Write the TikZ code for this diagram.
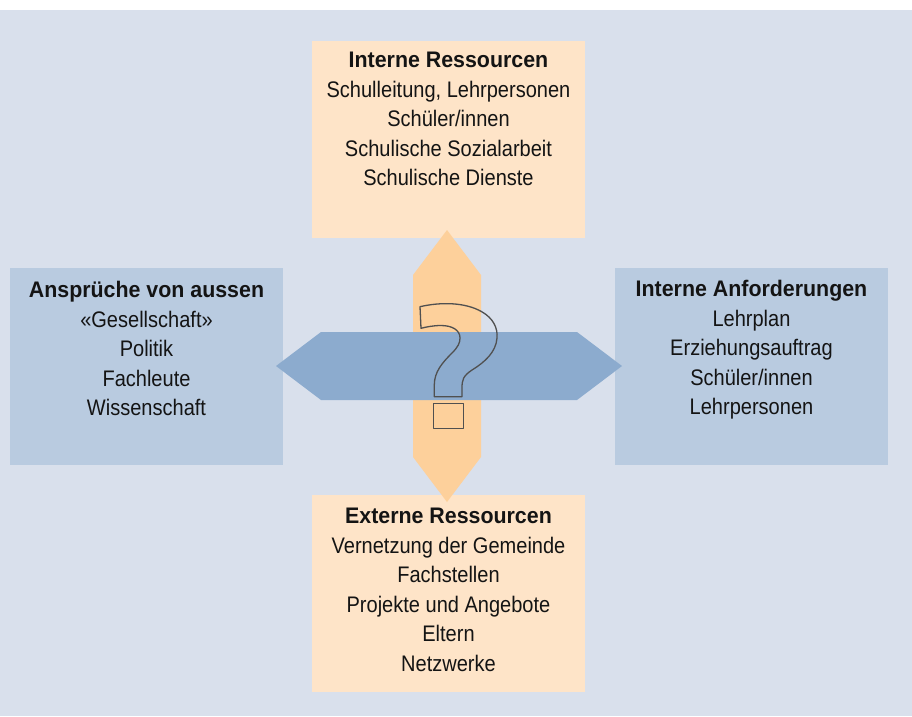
\documentclass[tikz,border=0pt]{standalone}
\usepackage{fontspec}
\newfontfamily\bodyfont{Liberation Sans}[FakeStretch=0.89]
\newfontfamily\headfont{Liberation Sans}[FakeStretch=0.95]
\definecolor{bgc}{RGB}{217,224,236}
\definecolor{boxblue}{RGB}{185,203,224}
\definecolor{boxpeach}{RGB}{254,228,200}
\definecolor{arrorange}{RGB}{253,208,155}
\definecolor{arrblue}{RGB}{140,171,206}
\definecolor{qgray}{RGB}{80,80,80}
\definecolor{txtc}{RGB}{20,20,20}
\tikzset{
  boxb/.style={fill=boxblue, draw=none},
  boxp/.style={fill=boxpeach, draw=none},
  txt/.style={anchor=north, inner sep=0pt, align=center, text=txtc,
    font=\bodyfont\fontsize{22.5}{29.5}\selectfont},
  qmark/.style={draw=qgray, line width=1.3pt, fill=none, line join=round}
}
\newcommand{\hd}[1]{{\headfont\bfseries #1}}
\begin{document}
\begin{tikzpicture}[x=1pt,y=-1pt]
\useasboundingbox (0,0) rectangle (912,716);
\fill[white] (0,0) rectangle (912,10);
\fill[bgc] (0,10) rectangle (912,716);
% boxes
\path[boxp] (312,41) rectangle (585,238);
\path[boxb] (10,268) rectangle (283,465);
\path[boxb] (615,268) rectangle (888,465);
\path[boxp] (312,495) rectangle (585,692);
% texts
\node[txt] (top) at (448.5,52) {\hd{Interne Ressourcen}\\Schulleitung, Lehrpersonen\\Schüler/innen\\Schulische Sozialarbeit\\Schulische Dienste};
\node[txt] (left) at (146.5,281) {\hd{Ansprüche von aussen}\\«Gesellschaft»\\Politik\\Fachleute\\Wissenschaft};
\node[txt] (right) at (751.5,280) {\hd{Interne Anforderungen}\\Lehrplan\\Erziehungsauftrag\\Schüler/innen\\Lehrpersonen};
\node[txt] (bottom) at (448.5,508) {\hd{Externe Ressourcen}\\Vernetzung der Gemeinde\\Fachstellen\\Projekte und Angebote\\Eltern\\Netzwerke};
% arrows
\fill[arrorange] (447,230) -- (481,275) -- (481,457) -- (447,502) -- (413,457) -- (413,275) -- cycle;
\fill[arrblue] (276,366) -- (321,332) -- (577,332) -- (622,366) -- (577,400) -- (321,400) -- cycle;
% question mark
\draw[qmark] (420,306.7) .. controls (440,302) and (465,302) .. (481.7,311.7)
  .. controls (493,318) and (498,328) .. (497,338)
  .. controls (496,352) and (485,362) .. (472,370)
  .. controls (463,376) and (462,380) .. (462,388)
  -- (462,396.7) -- (434.3,396.7) -- (434.3,385)
  .. controls (434.3,372) and (442,363) .. (452,353)
  .. controls (458,347) and (460,343) .. (460,338)
  .. controls (460,330) and (452,325.5) .. (441,325.5)
  .. controls (433,325.5) and (426,327) .. (421,328.3) -- cycle;
\draw[qmark] (433.3,403.3) rectangle (463.7,428.3);
\end{tikzpicture}
\end{document}
